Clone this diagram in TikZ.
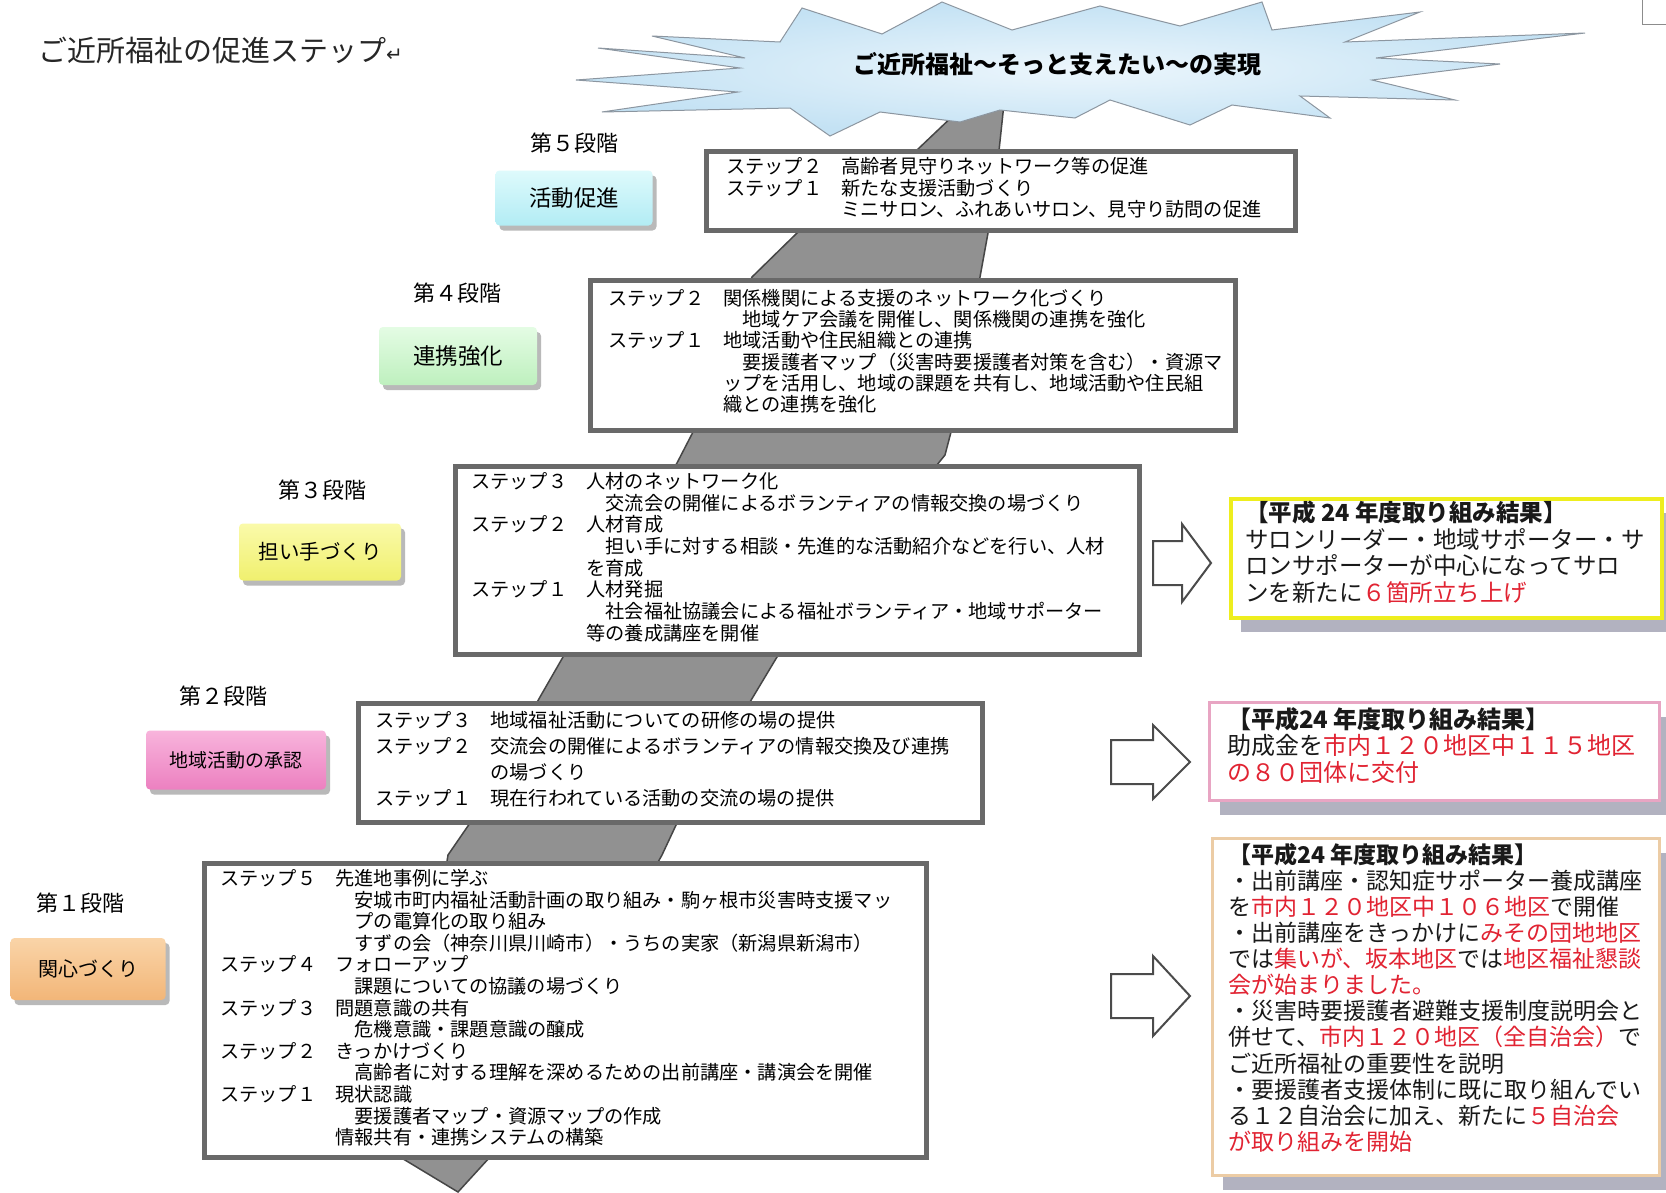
\documentclass[tikz,border=0pt]{standalone}
\usepackage{fontspec}
\setmainfont{Noto Sans CJK JP}
\newfontfamily\symfont{DejaVu Sans}
\usetikzlibrary{shadows}
\definecolor{bandgray}{RGB}{145,145,145}
\definecolor{bandedge}{RGB}{70,70,70}
\definecolor{cloudblue}{RGB}{196,226,244}
\definecolor{cloudlight}{RGB}{236,246,252}
\definecolor{cloudedge}{RGB}{140,150,160}
\definecolor{frame}{RGB}{105,105,105}
\definecolor{redtxt}{RGB}{225,35,50}
\definecolor{arrowedge}{RGB}{75,75,75}
\definecolor{ylwborder}{RGB}{238,238,30}
\definecolor{pinkborder}{RGB}{232,165,195}
\definecolor{tanborder}{RGB}{236,204,165}
\definecolor{resshadow}{RGB}{178,178,192}
\newcommand{\redpart}[1]{\textcolor{redtxt}{#1}}
\begin{document}
\begin{tikzpicture}[x=1pt,y=-1pt,
  stepbox/.style={draw=frame, line width=5pt, fill=white, rectangle, inner sep=0pt, anchor=north west},
  steptext/.style={anchor=north west, inner sep=0pt, align=left, font=\fontsize{19.2}{21.6}\selectfont},
  stagelbl/.style={font=\fontsize{22}{22}\selectfont, inner sep=0pt},
  lblbox/.style={rectangle, rounded corners=4pt, inner sep=0pt,
    drop shadow={shadow xshift=4pt, shadow yshift=-5pt, fill=black!50, opacity=0.55}},
  resbox/.style={rectangle, fill=white, inner sep=0pt, anchor=north west,
    drop shadow={shadow xshift=10pt, shadow yshift=-14pt, fill=resshadow, opacity=1}},
  restext/.style={anchor=north west, inner sep=0pt, align=left, text=black!90},
  barrow/.style={draw=arrowedge, fill=white, line width=2pt, line join=miter}
]
\useasboundingbox (0,0) rectangle (1666,1192);
\fill[white] (0,0) rectangle (1666,1192);

% corner mark
\draw[black!45, line width=1pt] (1642,0) -- (1642,24) -- (1666,24);

% title
\node[anchor=west, inner sep=0pt, font=\fontsize{29}{29}\selectfont, text=black!85] (title) at (38,50)
  {ご近所福祉の促進ステップ{\symfont\fontsize{20}{20}\selectfont ↵}};

% gray band
\filldraw[fill=bandgray, draw=bandedge, line width=1.5pt]
  (1008,40) -- (1003,113) -- (998,160) -- (988,233) -- (980,277) -- (962,390) -- (945,455)
  -- (860,560) -- (777,657) -- (753,697) -- (677,823) -- (662,855) -- (575,1010)
  -- (490,1157) -- (458,1192) -- (400,1157) -- (425,1000) -- (448,855) -- (470,823)
  -- (540,697) -- (563,657) -- (620,560) -- (677,463) -- (693,432) -- (722,350)
  -- (752,277) -- (797,233) -- (917,150) -- (957,112) -- (985,40) -- cycle;

% cloud / explosion
\path[draw=cloudedge, line width=1pt, inner color=cloudlight, outer color=cloudblue]
  (598,48) -- (740,68) -- (576,80) -- (738,92) -- (602,112) -- (790,108) -- (830,136)
  -- (880,112) -- (960,122) -- (1000,110) -- (1075,118) -- (1110,100) -- (1190,125)
  -- (1232,105) -- (1330,118) -- (1300,96) -- (1455,100) -- (1372,80) -- (1500,64)
  -- (1376,58) -- (1585,33) -- (1345,42) -- (1420,12) -- (1272,30) -- (1262,2)
  -- (1180,26) -- (1100,6) -- (1012,30) -- (942,2) -- (882,34) -- (802,8) -- (780,42)
  -- (652,36) -- (745,58) -- cycle;
\node[font=\fontsize{24}{24}\selectfont\bfseries, inner sep=0pt] (goal) at (1057,64)
  {ご近所福祉～そっと支えたい～の実現};

% ---------- stage 5
\node[stagelbl] (s5) at (574,143) {第５段階};
\node[lblbox, minimum width=157pt, minimum height=55pt, top color={rgb,255:red,222;green,250;blue,252},
  bottom color={rgb,255:red,178;green,236;blue,244}, font=\fontsize{22.5}{22.5}\selectfont] (l5) at (574,198) {活動促進};
\node[stepbox, minimum width=589pt, minimum height=79pt] (b5) at (704,149) {};
\node[steptext] (t5) at (726,157) {%
ステップ２　高齢者見守りネットワーク等の促進\\
ステップ１　新たな支援活動づくり\\
　　　　　　ミニサロン、ふれあいサロン、見守り訪問の促進};

% ---------- stage 4
\node[stagelbl] (s4) at (457,293) {第４段階};
\node[lblbox, minimum width=158pt, minimum height=58pt, top color={rgb,255:red,228;green,252;blue,228},
  bottom color={rgb,255:red,190;green,240;blue,190}, font=\fontsize{22.5}{22.5}\selectfont] (l4) at (458,356) {連携強化};
\node[stepbox, minimum width=645pt, minimum height=150pt] (b4) at (588,278) {};
\node[steptext, font=\fontsize{19.2}{21.3}\selectfont] (t4) at (608,289) {%
ステップ２　関係機関による支援のネットワーク化づくり\\
　　　　　　　地域ケア会議を開催し、関係機関の連携を強化\\
ステップ１　地域活動や住民組織との連携\\
　　　　　　　要援護者マップ（災害時要援護者対策を含む）・資源マ\\
　　　　　　ップを活用し、地域の課題を共有し、地域活動や住民組\\
　　　　　　織との連携を強化};

% ---------- stage 3
\node[stagelbl] (s3) at (322,490) {第３段階};
\node[lblbox, minimum width=162pt, minimum height=57pt, top color={rgb,255:red,250;green,250;blue,170},
  bottom color={rgb,255:red,240;green,240;blue,110}, font=\fontsize{20.5}{20.5}\selectfont] (l3) at (320,552) {担い手づくり};
\node[stepbox, minimum width=684pt, minimum height=188pt] (b3) at (453,464) {};
\node[steptext, font=\fontsize{19.2}{21.7}\selectfont] (t3) at (471,472) {%
ステップ３　人材のネットワーク化\\
　　　　　　　交流会の開催によるボランティアの情報交換の場づくり\\
ステップ２　人材育成\\
　　　　　　　担い手に対する相談・先進的な活動紹介などを行い、人材\\
　　　　　　を育成\\
ステップ１　人材発掘\\
　　　　　　　社会福祉協議会による福祉ボランティア・地域サポーター\\
　　　　　　等の養成講座を開催};

% ---------- stage 2
\node[stagelbl] (s2) at (223,696) {第２段階};
\node[lblbox, minimum width=180pt, minimum height=59pt, top color={rgb,255:red,248;green,180;blue,220},
  bottom color={rgb,255:red,236;green,128;blue,192}, font=\fontsize{19}{19}\selectfont] (l2) at (236,760) {地域活動の承認};
\node[stepbox, minimum width=624pt, minimum height=119pt] (b2) at (356,701) {};
\node[steptext, font=\fontsize{19.2}{26}\selectfont] (t2) at (375,711) {%
ステップ３　地域福祉活動についての研修の場の提供\\
ステップ２　交流会の開催によるボランティアの情報交換及び連携\\
　　　　　　の場づくり\\
ステップ１　現在行われている活動の交流の場の提供};

% ---------- stage 1
\node[stagelbl] (s1) at (80,903) {第１段階};
\node[lblbox, minimum width=155pt, minimum height=62pt, top color={rgb,255:red,250;green,212;blue,168},
  bottom color={rgb,255:red,242;green,182;blue,120}, font=\fontsize{20}{20}\selectfont] (l1) at (88,969) {関心づくり};
\node[stepbox, minimum width=722pt, minimum height=294pt] (b1) at (202,861) {};
\node[steptext, font=\fontsize{19.2}{21.6}\selectfont] (t1) at (220,869) {%
ステップ５　先進地事例に学ぶ\\
　　　　　　　安城市町内福祉活動計画の取り組み・駒ヶ根市災害時支援マッ\\
　　　　　　　プの電算化の取り組み\\
　　　　　　　すずの会（神奈川県川崎市）・うちの実家（新潟県新潟市）\\
ステップ４　フォローアップ\\
　　　　　　　課題についての協議の場づくり\\
ステップ３　問題意識の共有\\
　　　　　　　危機意識・課題意識の醸成\\
ステップ２　きっかけづくり\\
　　　　　　　高齢者に対する理解を深めるための出前講座・講演会を開催\\
ステップ１　現状認識\\
　　　　　　　要援護者マップ・資源マップの作成\\
　　　　　　情報共有・連携システムの構築};

% ---------- block arrows
\draw[barrow] (1153,541) -- (1182,541) -- (1182,524) -- (1211,563) -- (1182,602) -- (1182,585) -- (1153,585) -- cycle;
\draw[barrow] (1111,740) -- (1153,740) -- (1153,725) -- (1190,762) -- (1153,799) -- (1153,784) -- (1111,784) -- cycle;
\draw[barrow] (1111,974) -- (1153,974) -- (1153,956) -- (1190,996) -- (1153,1036) -- (1153,1018) -- (1111,1018) -- cycle;

% ---------- result boxes
\node[resbox, draw=ylwborder, line width=4pt, minimum width=431pt, minimum height=119pt] (r1) at (1229,497) {};
\node[restext, font=\fontsize{23.5}{26.5}\selectfont] (rt1) at (1245,501) {%
{\bfseries 【平成 24 年度取り組み結果】}\\
サロンリーダー・地域サポーター・サ\\
ロンサポーターが中心になってサロ\\
ンを新たに\redpart{６箇所立ち上げ}};

\node[resbox, draw=pinkborder, line width=3pt, minimum width=450pt, minimum height=98pt] (r2) at (1208,701) {};
\node[restext, font=\fontsize{24}{26.5}\selectfont] (rt2) at (1227,707) {%
{\bfseries 【平成24 年度取り組み結果】}\\
助成金を\redpart{市内１２０地区中１１５地区}\\
\redpart{の８０団体に交付}};

\node[resbox, draw=tanborder, line width=3pt, minimum width=447pt, minimum height=337pt] (r3) at (1211,837) {};
\node[restext, font=\fontsize{23}{26.1}\selectfont] (rt3) at (1228,843) {%
{\bfseries 【平成24 年度取り組み結果】}\\
・出前講座・認知症サポーター養成講座\\
を\redpart{市内１２０地区中１０６地区}で開催\\
・出前講座をきっかけに\redpart{みその団地地区}\\
では\redpart{集いが、坂本地区}では\redpart{地区福祉懇談}\\
\redpart{会が始まりました。}\\
・災害時要援護者避難支援制度説明会と\\
併せて、\redpart{市内１２０地区（全自治会）}で\\
ご近所福祉の重要性を説明\\
・要援護者支援体制に既に取り組んでい\\
る１２自治会に加え、新たに\redpart{５自治会}\\
\redpart{が取り組みを開始}};
\end{tikzpicture}
\end{document}
